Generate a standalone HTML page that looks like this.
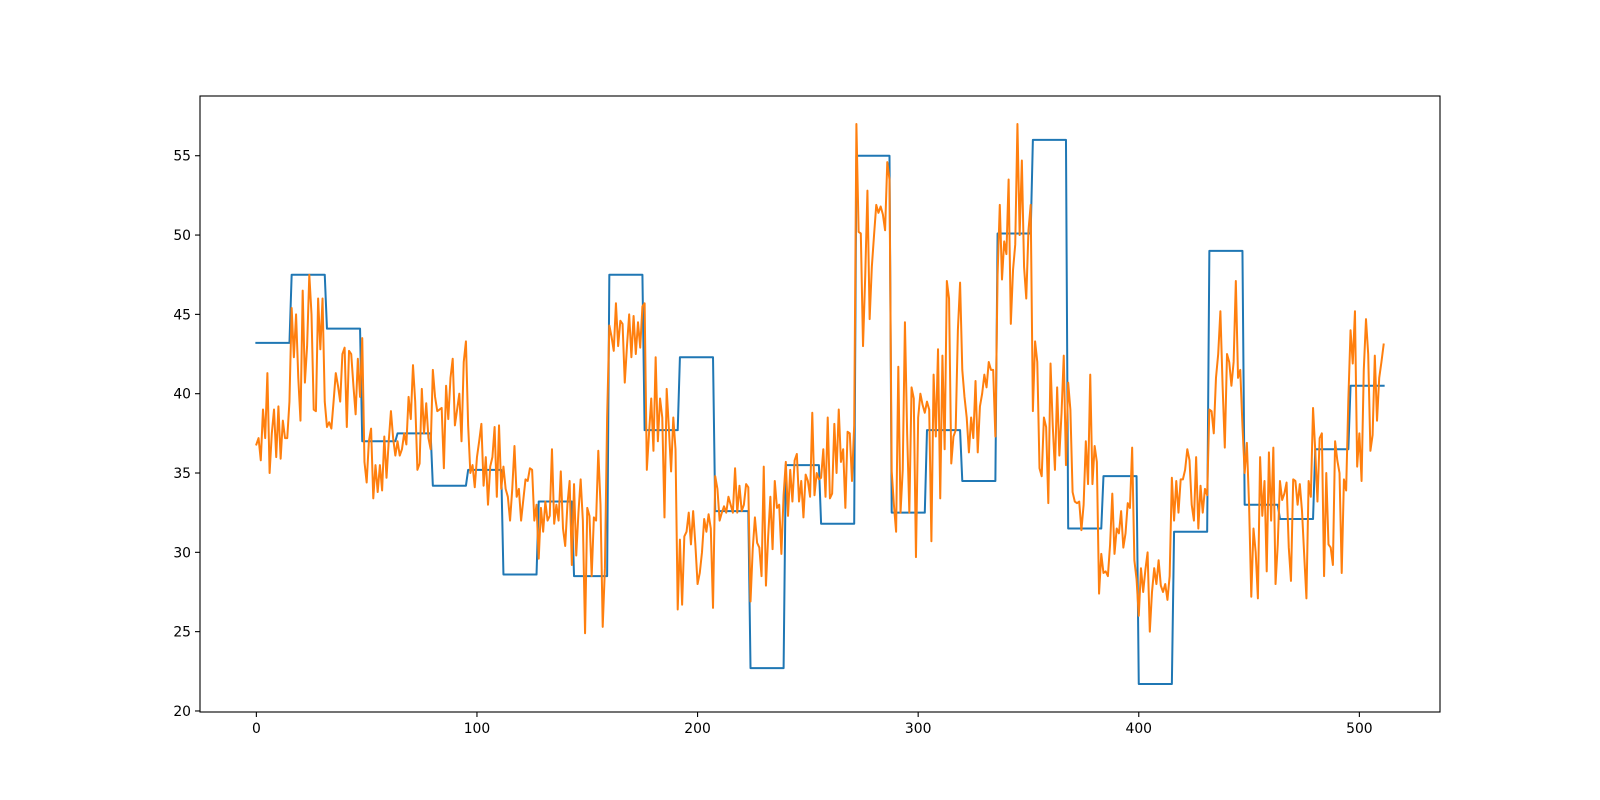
<!DOCTYPE html>
<html><head><meta charset="utf-8"><style>
html,body{margin:0;padding:0;background:#fff;width:1600px;height:800px;overflow:hidden;}
svg{display:block;position:absolute;left:0;top:0;font-family:"DejaVu Sans","Liberation Sans",sans-serif;overflow:hidden;}
</style></head><body>
<svg id="chart" width="1600" height="800" viewBox="0 0 1600 800">
<rect x="0" y="0" width="1600" height="800" fill="#fff"/>
<g id="plot"></g>
<g id="axes"></g>
</svg>
<script>
const blockLevels = [43.2,47.5,44.1,37.0,37.5,34.2,35.2,28.6,33.2,28.5,47.5,37.7,42.3,32.6,22.7,35.5,31.8,55.0,32.5,37.7,34.5,50.1,56.0,31.5,34.8,21.7,31.3,49.0,33.0,32.1,36.5,40.5];
const blockSize = 16;
const noisySeries = [
36.8,37.2,35.8,39,37.2,41.3,35,37.5,39,36,39.2,35.9,38.3,37.2,37.2,39.5,
45.4,42.3,45,41,38.3,46.5,40.7,43,47.5,45,39,38.9,46,42.8,46,39.5,
37.9,38.2,37.8,39.5,41.3,40.5,39.5,42.5,42.9,37.9,42.7,42.5,40.5,38.7,42.2,39.8,
43.5,35.7,34.4,37,37.8,33.4,35.5,33.8,35.5,33.9,37.3,34.7,37,38.9,37.2,36.1,
37,36.1,36.5,37.5,36.8,39.8,38.4,41.8,39.5,35.2,35.6,40.3,37.5,39.4,37.2,36.5,
41.5,39.8,38.9,39,39.1,35.3,40.5,38.4,41,42.2,38,39,40,37,42,43.3,
38,35,35.5,34.1,36,37,38.1,34.2,36,33,35.4,36,37.9,33.5,38,34,
35.4,34,33.5,32,34,36.7,33.5,34,32,33.3,34.6,34.5,35.3,35.2,32,33,
29.6,32.8,31.3,33.2,32,32.3,36.5,31.8,33,32,35.1,31.5,30.4,33,34.5,29.2,
34.3,29.8,32.5,34.6,32,24.9,32.8,32.3,28.5,32.2,32,36.4,33,25.3,29,38.5,
44.3,43.6,42.7,45.7,43,44.6,44.4,40.7,43,45,42.3,44.9,42.5,44.5,42.9,45.5,
45.7,35.2,37.5,39.7,36.4,42.3,37,39.7,38.5,32.2,40.3,37.8,35.1,38.5,36.5,26.4,
30.8,26.7,31,31.3,32.5,30.5,32.6,30.5,28,28.7,30,32.1,31.3,32.4,31.5,26.5,
34.8,34,32,32.5,32.9,32.5,33.5,33,32.5,35.3,32.5,34.2,32.6,33,34.3,34.1,
26.9,30.2,32.2,30.6,30.3,28.5,35.4,27.9,31,33.5,30.2,34.5,32.8,33,29.9,33.6,
35.7,32.3,35.2,33.2,35.8,36.2,33.2,34.5,32.2,34.9,34.5,33.5,38.8,33.6,35,34.6,
34.7,36.5,33.5,38.5,33.4,33.7,38.1,35,39,35.7,36.5,32.8,37.6,37.5,34.5,38,
57,50.2,50.1,43,47.4,52.8,44.7,48,50,51.9,51.4,51.8,51.3,50.3,54.6,53.5,
35.1,33,31.3,41.7,32.5,35.2,44.5,37.5,32.5,40.4,39.7,29.7,38.5,40,39.3,38.8,
39.5,39,30.7,41.2,37.3,42.8,33.4,42.4,36.5,47.1,46,35.6,37.3,37.7,44,47,
41.5,39.8,38.5,36.3,38.5,37.2,40.8,36.3,39.2,40,41.2,40.4,42,41.5,41.5,37.3,
47.5,51.9,47.2,49.6,48.8,53.5,44.4,47.8,49.4,57,50,54.7,48,46,50.3,51.9,
38.9,43.3,42,35.3,34.8,38.5,37.9,33.1,41.9,38,35.2,40.4,36.1,38.8,42.4,35.5,
40.7,39,33.8,33.2,33.1,33.2,31.4,33,37,34.3,41.2,34.3,36.7,35.7,27.4,29.9,
28.7,28.8,28.5,30.5,33.7,29.9,31.5,31.2,32.6,30.3,31.2,33.1,32.8,36.6,29.5,28.3,
26,29,27.5,28.9,30,25,27.5,29,28,29.5,27.9,27.5,28,27,28.5,34.7,
32,34.5,32.5,34.6,34.6,35.2,36.5,35.8,33,32,36,31.5,34.2,32.5,34,33.6,
39,38.9,37.5,41,42.5,45.2,40.5,36.6,42.5,42,40.5,42,47.1,41,41.5,38,
35,36.9,33,27.2,31.5,30,27.1,36,32.3,34.5,28.8,36.3,32,36.6,28,30.5,
34.5,33.3,33.7,34.4,30.3,28.2,34.6,34.5,33,34.3,32.6,29.8,27.1,34.5,33.5,39.1,
36.4,33.2,37.2,37.5,28.5,35,30.5,30.3,29.2,37,35.8,35,28.7,34.6,33.9,39.6,
44,41.9,45.2,35.4,37.5,34.5,41.5,44.7,42.5,36.4,37.4,42.4,38.3,41,42,43.1
];
const xTicks = [0,100,200,300,400,500];
const yTicks = [20,25,30,35,40,45,50,55];

const NS = "http://www.w3.org/2000/svg";
const L = 200, R = 1440, T = 96, B = 712;
const stepSeries = [];
for (let i = 0; i < noisySeries.length; i++) stepSeries.push(blockLevels[Math.floor(i / blockSize)]);
const n = noisySeries.length;
const xMin0 = 0, xMax0 = n - 1;
const allY = stepSeries.concat(noisySeries);
const yMin0 = Math.min(...allY), yMax0 = Math.max(...allY);
const xm = (xMax0 - xMin0) * 0.05, ym = (yMax0 - yMin0) * 0.05;
const xLo = xMin0 - xm, xHi = xMax0 + xm, yLo = yMin0 - ym, yHi = yMax0 + ym;
function sx(v){ return L + (v - xLo) / (xHi - xLo) * (R - L); }
function sy(v){ return B - (v - yLo) / (yHi - yLo) * (B - T); }

const plot = document.getElementById('plot');
const axes = document.getElementById('axes');
function mk(tag, attrs, parent){ const e = document.createElementNS(NS, tag); for (const k in attrs) e.setAttribute(k, attrs[k]); parent.appendChild(e); return e; }

function drawLine(arr, color, name){
  const d = arr.map((v,i)=>(i?'L':'M')+sx(i).toFixed(2)+' '+sy(v).toFixed(2)).join(' ');
  const p = mk('path', {d:d, fill:'none', stroke:color, 'stroke-width':2, 'stroke-linejoin':'round', 'stroke-linecap':'square'}, plot);
  
  
}
drawLine(stepSeries, '#1f77b4', 'step-series-line');
drawLine(noisySeries, '#ff7f0e', 'noisy-series-line');

const frame = mk('rect', {x:L, y:T, width:R-L, height:B-T, fill:'none', stroke:'#000', 'stroke-width':1.1}, axes);



xTicks.forEach(t=>{
  const x = sx(t);
  const tk = mk('line', {x1:x, x2:x, y1:B, y2:B+5, stroke:'#000', 'stroke-width':1.1}, axes);
  
  
  const lb = mk('text', {x:x, y:B+21, 'text-anchor':'middle', 'font-size':13.9, fill:'#000'}, axes);
  lb.textContent = t;
  
  
});
yTicks.forEach(t=>{
  const y = sy(t);
  const tk = mk('line', {x1:L-5, x2:L, y1:y, y2:y, stroke:'#000', 'stroke-width':1.1}, axes);
  
  
  const lb = mk('text', {x:L-9, y:y+5, 'text-anchor':'end', 'font-size':13.9, fill:'#000'}, axes);
  lb.textContent = t;
  
  
});
</script>
</body></html>
